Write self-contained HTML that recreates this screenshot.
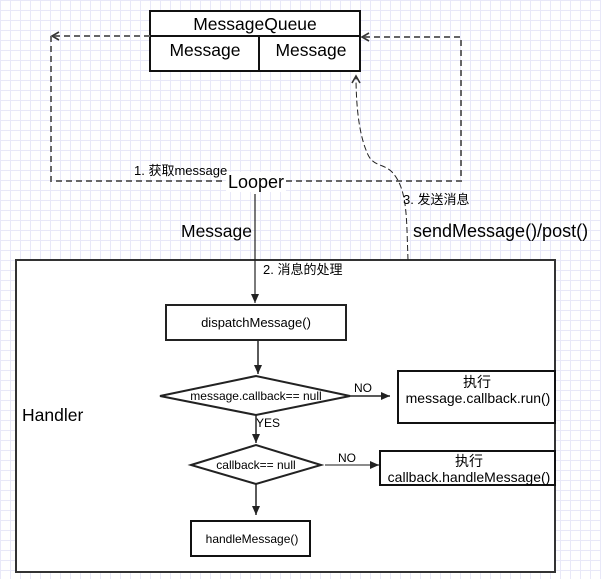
<!DOCTYPE html>
<html><head><meta charset="utf-8"><style>
html,body{margin:0;padding:0;}
body{width:601px;height:579px;overflow:hidden;background-color:#fff;
background-image:linear-gradient(#e8e8f8 1px,transparent 1px),linear-gradient(90deg,#e8e8f8 1px,transparent 1px);
background-size:10px 10px;background-position:0 0;}
svg{position:absolute;left:0;top:0;}
text{font-family:"Liberation Sans","Noto Sans CJK SC",sans-serif;fill:#000;}
</style></head><body>
<svg width="601" height="579" viewBox="0 0 601 579">
<defs>
<marker id="open" markerWidth="10" markerHeight="10" refX="8" refY="5" orient="auto" markerUnits="userSpaceOnUse">
<path d="M1,1 L8,5 L1,9" fill="none" stroke="#333" stroke-width="1.6"/></marker>
<marker id="fill" markerWidth="10" markerHeight="10" refX="9" refY="5" orient="auto" markerUnits="userSpaceOnUse">
<path d="M0,1 L9,5 L0,9 Z" fill="#222"/></marker>
</defs>
<rect x="16" y="260" width="539" height="312" fill="#fff" stroke="#333" stroke-width="2"/>
<rect x="150" y="11" width="210" height="60" fill="#fff" stroke="#111" stroke-width="2"/>
<line x1="150" y1="36" x2="360" y2="36" stroke="#111" stroke-width="2"/>
<line x1="259" y1="36" x2="259" y2="71" stroke="#111" stroke-width="2"/>
<text x="255" y="30" font-size="17.5" text-anchor="middle">MessageQueue</text>
<text x="205" y="56" font-size="17.5" text-anchor="middle">Message</text>
<text x="311" y="56" font-size="17.5" text-anchor="middle">Message</text>
<path d="M150,36 L52,36" fill="none" stroke="#666" stroke-width="2" stroke-dasharray="6,4" marker-end="url(#open)"/>
<path d="M51,36 L51,181 L461,181 L461,37 L362,37" fill="none" stroke="#666" stroke-width="2" stroke-dasharray="6,4" marker-end="url(#open)"/>
<path d="M408,260 L407,230 C406,205 404,185 392,172 C382,162 372,168 366,150 C358,130 356,100 356,76" fill="none" stroke="#222" stroke-width="1" stroke-dasharray="6,3" marker-end="url(#open)"/>
<rect x="226" y="172" width="60" height="20" fill="#fff"/>
<text x="256" y="188" font-size="18" text-anchor="middle">Looper</text>
<text x="134" y="175" font-size="13">1. 获取message</text>
<line x1="255" y1="194" x2="255" y2="303" stroke="#222" stroke-width="1.2" marker-end="url(#fill)"/>
<text x="181" y="237" font-size="17.5">Message</text>
<text x="403" y="204" font-size="13">3. 发送消息</text>
<text x="413" y="237" font-size="18">sendMessage()/post()</text>
<text x="263" y="274" font-size="13">2. 消息的处理</text>
<text x="22" y="421" font-size="17.5">Handler</text>
<rect x="166" y="305" width="180" height="35" fill="#fff" stroke="#222" stroke-width="2"/>
<text x="256" y="327" font-size="13" text-anchor="middle">dispatchMessage()</text>
<line x1="258" y1="340" x2="258" y2="374" stroke="#222" stroke-width="1.5" marker-end="url(#fill)"/>
<polygon points="160,396 256,376 350,396 256,415" fill="#fff" stroke="#222" stroke-width="2"/>
<text x="256" y="400" font-size="12" text-anchor="middle">message.callback== null</text>
<line x1="350" y1="396" x2="390" y2="396" stroke="#222" stroke-width="1.5" marker-end="url(#fill)"/>
<text x="354" y="392" font-size="12">NO</text>
<rect x="398" y="371" width="157" height="52" fill="#fff" stroke="#111" stroke-width="2"/>
<text x="477" y="387" font-size="14" text-anchor="middle">执行</text>
<text x="478" y="403" font-size="14" text-anchor="middle">message.callback.run()</text>
<text x="256" y="427" font-size="12">YES</text>
<line x1="256" y1="415" x2="256" y2="443" stroke="#222" stroke-width="1.5" marker-end="url(#fill)"/>
<polygon points="191,465 256,445 321,465 256,484" fill="#fff" stroke="#222" stroke-width="2"/>
<text x="256" y="469" font-size="12" text-anchor="middle">callback== null</text>
<line x1="325" y1="465" x2="379" y2="465" stroke="#666" stroke-width="1.5" marker-end="url(#fill)"/>
<text x="338" y="462" font-size="12">NO</text>
<rect x="380" y="451" width="175" height="34" fill="#fff" stroke="#111" stroke-width="2"/>
<text x="469" y="466" font-size="14" text-anchor="middle">执行</text>
<text x="469" y="482" font-size="14" text-anchor="middle">callback.handleMessage()</text>
<line x1="256" y1="484" x2="256" y2="515" stroke="#222" stroke-width="1.5" marker-end="url(#fill)"/>
<rect x="191" y="521" width="119" height="35" fill="#fff" stroke="#111" stroke-width="2"/>
<text x="252" y="543" font-size="12" text-anchor="middle">handleMessage()</text>
</svg>
</body></html>
